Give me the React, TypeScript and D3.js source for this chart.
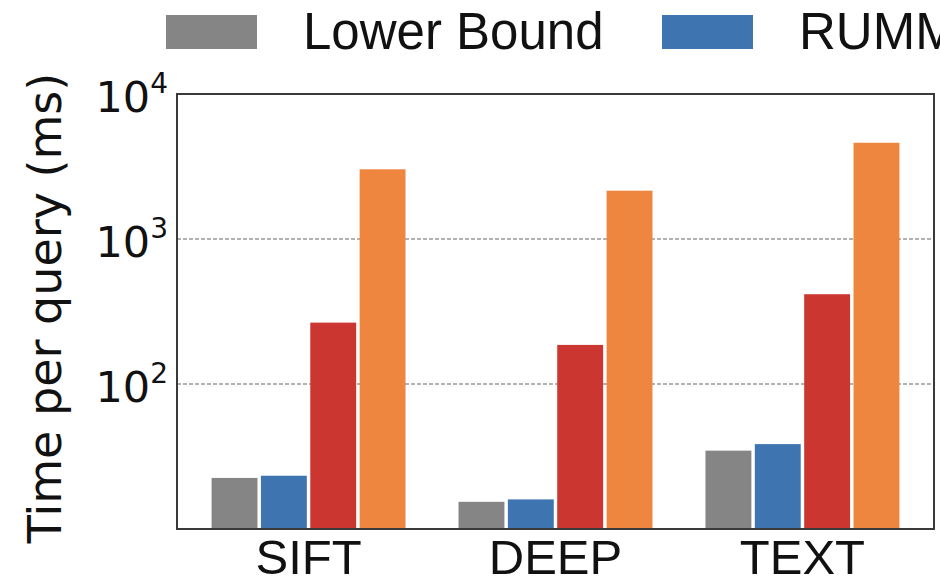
import React, { useRef, useEffect } from 'react';
import * as d3 from 'd3';

const datasets = ['SIFT', 'DEEP', 'TEXT'];
const seriesNames = ['Lower Bound', 'RUMM', 'series3', 'series4'];
const seriesColors = ['#858585', '#3e75b1', '#cb3630', '#ef8640'];
const lowerBound = [22.5, 15.4, 34.7];
const rumm = [23.3, 16.0, 38.5];
const series3 = [265, 186, 416];
const series4 = [3025, 2154, 4610];
const yTicks = [2, 3, 4];
const legendShown = ['Lower Bound', 'RUMM'];

function App() {
  const svgRef = useRef(null);

  useEffect(() => {
    const svg = d3.select(svgRef.current);
    svg.selectAll('*').remove();

    const left = 177, right = 934, top = 94, bottom = 529;
    const allSeries = [lowerBound, rumm, series3, series4];

    const x = d3.scaleBand().domain(datasets).range([left, right])
      .paddingInner(0.2146).paddingOuter(0.14);
    const xInner = d3.scaleBand().domain(seriesNames).range([0, x.bandwidth()])
      .paddingInner(0.07).paddingOuter(0);
    const y = d3.scaleLog().domain([10, 10000]).range([bottom, top]);

    // grid
    svg.append('g').selectAll('line').data(yTicks.slice(0, 2)).enter().append('line')
      .attr('x1', left).attr('x2', right)
      .attr('y1', d => y(Math.pow(10, d))).attr('y2', d => y(Math.pow(10, d)))
      .attr('stroke', '#999').attr('stroke-width', 1.5)
      .attr('stroke-dasharray', '4 2');

    // bars
    const rows = [];
    datasets.forEach((ds, i) => {
      seriesNames.forEach((s, j) => {
        rows.push({ ds, s, v: allSeries[j][i], c: seriesColors[j] });
      });
    });
    svg.append('g').selectAll('rect').data(rows).enter().append('rect')
      .attr('x', d => x(d.ds) + xInner(d.s))
      .attr('width', xInner.bandwidth())
      .attr('y', d => y(d.v))
      .attr('height', d => bottom - y(d.v))
      .attr('fill', d => d.c);

    // frame
    svg.append('rect')
      .attr('x', left).attr('y', top)
      .attr('width', right - left).attr('height', bottom - top)
      .attr('fill', 'none').attr('stroke', '#3a3a3a').attr('stroke-width', 2);

    // y tick labels
    const yt = svg.append('g').selectAll('text').data(yTicks).enter().append('text')
      .attr('x', 168)
      .attr('y', d => y(Math.pow(10, d)) + 18)
      .attr('text-anchor', 'end')
      .attr('font-family', 'DejaVu Sans')
      .attr('fill', '#111');
    yt.append('tspan').attr('font-size', 43).text('10');
    yt.append('tspan').attr('font-size', 28).attr('dy', -19).text(d => d);

    // y label
    svg.append('text')
      .attr('transform', `translate(61,308) rotate(-90)`)
      .attr('text-anchor', 'middle')
      .attr('font-family', 'DejaVu Sans')
      .attr('font-size', 46)
      .attr('fill', '#111')
      .text('Time per query (ms)');

    // x labels
    svg.append('g').selectAll('text').data(datasets).enter().append('text')
      .attr('x', d => x(d) + x.bandwidth() / 2)
      .attr('y', 574)
      .attr('text-anchor', 'middle')
      .attr('font-family', 'Liberation Sans, Arial')
      .attr('font-size', 49)
      .attr('fill', '#111')
      .text(d => d);

    // legend (cut off on the right)
    const legendX = [166, 662];
    const lg = svg.append('g').selectAll('g').data(legendShown).enter().append('g')
      .attr('transform', (d, i) => `translate(${legendX[i]},15)`);
    lg.append('rect')
      .attr('width', 91).attr('height', 34)
      .attr('fill', (d, i) => seriesColors[i]);
    lg.append('text')
      .attr('x', 137).attr('y', 34)
      .attr('font-family', 'Liberation Sans, Arial')
      .attr('font-size', 51)
      .attr('fill', '#111')
      .text(d => d);
  }, []);

  return (
    <div style={{ position: 'absolute', left: 0, top: 0, width: 940, height: 584, overflow: 'hidden', background: '#fff' }}>
      <svg ref={svgRef} width={940} height={584} style={{ display: 'block' }} />
    </div>
  );
}

export default App;
